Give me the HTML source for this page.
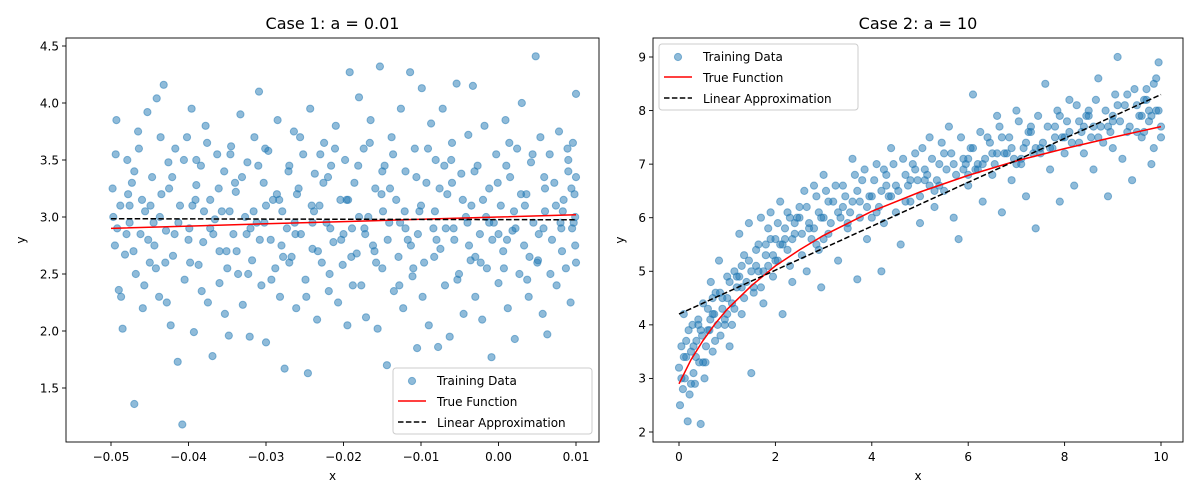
<!DOCTYPE html>
<html><head><meta charset="utf-8"><style>
html,body{margin:0;padding:0;background:#fff;}
svg{display:block;font-family:"DejaVu Sans","Liberation Sans",sans-serif;}
</style></head><body>
<svg id="c" width="1200" height="500" viewBox="0 0 1200 500"></svg>
<script>
const leftPts = [[-0.0498,3.25],[-0.0495,2.75],[-0.0493,3.85],[-0.0490,2.36],[-0.0488,3.10],[-0.0485,2.02],[-0.0482,2.67],[-0.0479,3.50],[-0.0476,2.95],[-0.0473,3.30],[-0.0470,1.36],[-0.0468,2.50],[-0.0465,3.75],[-0.0462,2.85],[-0.0459,2.20],[-0.0456,3.05],[-0.0453,3.92],[-0.0450,2.60],[-0.0447,3.35],[-0.0444,2.75],[-0.0441,4.04],[-0.0438,2.30],[-0.0435,3.20],[-0.0432,4.16],[-0.0429,2.88],[-0.0426,3.48],[-0.0423,2.05],[-0.0420,2.66],[-0.0417,3.60],[-0.0414,1.73],[-0.0411,3.10],[-0.0408,1.18],[-0.0405,2.45],[-0.0402,3.70],[-0.0399,2.90],[-0.0396,3.95],[-0.0393,1.99],[-0.0390,3.28],[-0.0387,2.58],[-0.0384,3.45],[-0.0381,2.78],[-0.0378,3.80],[-0.0375,2.25],[-0.0372,3.15],[-0.0369,1.78],[-0.0366,2.98],[-0.0363,3.55],[-0.0360,2.42],[-0.0357,3.05],[-0.0354,3.40],[-0.0351,2.70],[-0.0348,1.96],[-0.0345,3.62],[-0.0342,2.85],[-0.0339,3.22],[-0.0336,2.50],[-0.0333,3.90],[-0.0330,2.23],[-0.0327,3.00],[-0.0324,3.48],[-0.0321,1.95],[-0.0318,2.62],[-0.0315,3.70],[-0.0312,2.95],[-0.0309,4.10],[-0.0306,2.40],[-0.0303,3.30],[-0.0300,1.90],[-0.0297,3.58],[-0.0294,2.80],[-0.0291,3.15],[-0.0288,2.55],[-0.0285,3.85],[-0.0282,2.30],[-0.0279,3.05],[-0.0276,1.67],[-0.0273,2.90],[-0.0270,3.45],[-0.0267,2.65],[-0.0264,3.75],[-0.0261,2.20],[-0.0258,3.25],[-0.0255,2.85],[-0.0252,3.55],[-0.0249,2.45],[-0.0246,1.63],[-0.0243,3.95],[-0.0240,2.72],[-0.0237,3.38],[-0.0234,2.10],[-0.0231,3.10],[-0.0228,2.60],[-0.0225,3.65],[-0.0222,2.95],[-0.0219,2.35],[-0.0216,3.45],[-0.0213,2.78],[-0.0210,3.80],[-0.0207,2.25],[-0.0204,3.15],[-0.0201,2.58],[-0.0198,3.50],[-0.0195,2.05],[-0.0192,4.27],[-0.0189,2.90],[-0.0186,3.30],[-0.0183,2.68],[-0.0180,4.05],[-0.0177,2.40],[-0.0174,3.60],[-0.0171,2.12],[-0.0168,3.00],[-0.0165,3.85],[-0.0162,2.75],[-0.0159,3.25],[-0.0156,2.02],[-0.0153,4.32],[-0.0150,2.55],[-0.0147,3.45],[-0.0144,1.70],[-0.0141,2.95],[-0.0138,3.70],[-0.0135,2.35],[-0.0132,3.15],[-0.0129,2.65],[-0.0126,3.95],[-0.0123,2.20],[-0.0120,3.40],[-0.0117,2.80],[-0.0114,4.27],[-0.0111,2.48],[-0.0108,3.60],[-0.0105,1.85],[-0.0102,3.05],[-0.0099,4.13],[-0.0096,2.60],[-0.0093,3.30],[-0.0090,2.05],[-0.0087,3.82],[-0.0084,2.90],[-0.0081,3.50],[-0.0078,1.86],[-0.0075,2.72],[-0.0072,3.95],[-0.0069,2.40],[-0.0066,3.20],[-0.0063,1.95],[-0.0060,3.65],[-0.0057,2.80],[-0.0054,4.17],[-0.0051,2.50],[-0.0048,3.38],[-0.0045,2.15],[-0.0042,3.00],[-0.0039,3.72],[-0.0036,2.62],[-0.0033,4.15],[-0.0030,2.30],[-0.0027,3.45],[-0.0024,2.85],[-0.0021,2.10],[-0.0018,3.80],[-0.0015,2.55],[-0.0012,3.25],[-0.0009,1.77],[-0.0006,2.95],[-0.0003,3.55],[0.0000,2.42],[0.0003,3.10],[0.0006,2.70],[0.0009,3.85],[0.0012,2.20],[0.0015,3.35],[0.0018,2.88],[0.0021,1.93],[0.0024,3.60],[0.0027,2.50],[0.0030,4.00],[0.0033,2.75],[0.0036,3.20],[0.0039,2.30],[0.0042,3.48],[0.0045,2.95],[0.0048,4.41],[0.0051,2.62],[0.0054,3.70],[0.0057,2.15],[0.0060,3.05],[0.0063,1.97],[0.0066,3.55],[0.0069,2.80],[0.0072,3.30],[0.0075,2.40],[0.0078,3.75],[0.0081,2.90],[0.0084,3.15],[0.0087,2.55],[0.0090,3.40],[0.0093,2.25],[0.0096,3.65],[0.0099,2.75],[0.0100,4.08],[0.0099,3.00],[0.0097,2.95],[0.0094,3.25],
[-0.0497,3.00],[-0.0480,2.85],[-0.0460,3.15],[-0.0445,2.95],[-0.0425,3.25],[-0.0400,2.80],[-0.0380,3.05],[-0.0360,2.70],[-0.0340,3.30],[-0.0320,2.90],[-0.0300,3.10],[-0.0280,2.75],[-0.0260,3.20],[-0.0240,2.95],[-0.0220,3.35],[-0.0200,2.85],[-0.0180,3.00],[-0.0160,2.70],[-0.0140,3.25],[-0.0120,2.90],[-0.0100,3.10],[-0.0080,2.80],[-0.0060,3.30],[-0.0040,2.95],[-0.0020,3.15],[0.0000,2.85],[0.0020,3.05],[0.0040,2.65],[0.0060,3.25],[0.0080,2.95],[0.0098,3.20],[-0.0470,3.40],[-0.0430,2.60],[-0.0390,3.50],[-0.0350,2.55],[-0.0310,3.45],[-0.0270,2.60],[-0.0230,3.55],[-0.0190,2.65],[-0.0150,3.40],[-0.0110,2.55],[-0.0070,3.45],[-0.0030,2.65],[0.0010,3.45],[0.0050,2.60],[0.0090,3.50],
[-0.0494,3.55],[-0.0487,2.30],[-0.0478,3.20],[-0.0471,2.70],[-0.0464,3.60],[-0.0457,2.40],[-0.0449,3.10],[-0.0442,2.55],[-0.0436,3.70],[-0.0428,2.25],[-0.0421,3.35],[-0.0413,2.95],[-0.0406,3.50],[-0.0398,2.60],[-0.0391,3.15],[-0.0383,2.35],[-0.0376,3.65],[-0.0368,2.85],[-0.0361,3.25],[-0.0353,2.15],[-0.0346,3.55],[-0.0338,2.70],[-0.0331,3.35],[-0.0323,2.50],[-0.0316,3.05],[-0.0308,2.80],[-0.0301,3.60],[-0.0293,2.45],[-0.0286,3.20],[-0.0278,2.65],[-0.0271,3.40],[-0.0263,2.95],[-0.0256,3.70],[-0.0248,2.30],[-0.0241,3.10],[-0.0233,2.70],[-0.0226,3.30],[-0.0218,2.50],[-0.0211,3.60],[-0.0203,2.80],[-0.0196,3.15],[-0.0188,2.40],[-0.0181,3.45],[-0.0173,2.90],[-0.0166,3.65],[-0.0158,2.60],[-0.0151,3.20],[-0.0143,2.80],[-0.0136,3.55],[-0.0128,2.40],[-0.0121,3.05],[-0.0113,2.75],[-0.0106,3.35],[-0.0098,2.30],[-0.0091,3.60],[-0.0083,2.65],[-0.0076,3.25],[-0.0068,2.90],[-0.0061,3.50],[-0.0053,2.45],[-0.0046,3.15],[-0.0038,2.75],[-0.0031,3.40],[-0.0023,2.60],[-0.0016,3.00],[-0.0008,2.80],[-0.0001,3.30],[0.0007,2.55],[0.0014,3.65],[0.0022,2.90],[0.0029,3.20],[0.0037,2.45],[0.0044,3.55],[0.0052,2.85],[0.0059,3.35],[0.0067,2.50],[0.0074,3.10],[0.0082,2.70],[0.0089,3.60],[0.0095,2.90],[0.0100,2.60],[0.0100,3.35],
[-0.0492,2.90],[-0.0476,3.10],[-0.0452,2.80],[-0.0437,3.00],[-0.0418,2.85],[-0.0395,3.10],[-0.0372,2.90],[-0.0347,3.05],[-0.0325,2.85],[-0.0302,2.95],[-0.0283,3.15],[-0.0262,2.85],[-0.0238,3.05],[-0.0217,2.90],[-0.0194,3.15],[-0.0172,2.85],[-0.0149,3.05],[-0.0127,2.95],[-0.0104,2.85],[-0.0082,3.05],[-0.0058,2.90],[-0.0035,3.10],[-0.0012,2.95],[0.0011,2.80],[0.0034,3.10],[0.0058,2.90],[0.0083,3.05]];
const leftTrueX = [-0.05,-0.04,-0.03,-0.02,-0.01,0.0,0.01];
const leftTrueY = [2.90,2.92,2.94,2.96,2.98,3.00,3.02];
const leftLinX = [-0.05,0.01];
const leftLinY = [2.985,2.975];
const leftXTicks = [-0.05,-0.04,-0.03,-0.02,-0.01,0.00,0.01];
const leftXLabels = ["−0.05","−0.04","−0.03","−0.02","−0.01","0.00","0.01"];
const leftYTicks = [1.5,2.0,2.5,3.0,3.5,4.0,4.5];
const leftYLabels = ["1.5","2.0","2.5","3.0","3.5","4.0","4.5"];

const rightPts = [[0.00,3.2],[0.02,2.5],[0.05,3.6],[0.08,2.8],[0.10,4.2],[0.12,3.0],[0.15,3.4],[0.18,2.2],[0.20,3.9],[0.22,2.7],[0.25,3.5],[0.28,4.0],[0.30,3.1],[0.33,2.9],[0.36,3.7],[0.40,4.1],[0.42,3.3],[0.45,2.15],[0.48,3.8],[0.50,4.4],[0.53,3.0],[0.56,3.6],[0.60,4.3],[0.63,3.9],[0.66,4.8],[0.70,3.5],[0.73,4.2],[0.76,4.6],[0.80,4.0],[0.83,5.2],[0.86,3.8],[0.90,4.5],[0.95,4.1],[1.00,4.9],[1.05,3.6],[1.10,4.4],[1.15,5.0],[1.20,4.7],[1.25,5.7],[1.30,4.2],[1.35,5.3],[1.40,4.8],[1.45,5.9],[1.50,3.1],[1.55,4.6],[1.60,5.4],[1.65,5.0],[1.70,6.0],[1.75,4.4],[1.80,5.5],[1.85,5.1],[1.90,6.1],[1.95,4.9],[2.00,5.6],[2.05,5.2],[2.10,6.3],[2.15,4.2],[2.20,5.8],[2.25,5.4],[2.30,6.0],[2.35,4.8],[2.40,5.7],[2.50,6.2],[2.55,5.3],[2.60,6.5],[2.65,5.0],[2.70,5.9],[2.80,6.6],[2.85,5.5],[2.90,6.1],[2.95,4.7],[3.00,6.8],[3.10,5.7],[3.20,6.3],[3.30,5.2],[3.40,6.6],[3.50,5.9],[3.60,7.1],[3.70,4.85],[3.75,6.0],[3.80,6.7],[3.90,5.6],[4.00,6.4],[4.10,7.0],[4.20,5.0],[4.25,5.9],[4.30,6.6],[4.40,7.3],[4.50,6.1],[4.60,5.5],[4.70,6.8],[4.80,6.3],[4.90,7.2],[5.00,5.9],[5.10,6.7],[5.20,7.5],[5.30,6.2],[5.40,7.0],[5.50,6.5],[5.60,7.7],[5.70,6.0],[5.80,5.6],[5.90,7.1],[6.00,6.6],[6.10,8.3],[6.20,6.9],[6.30,6.3],[6.40,7.5],[6.50,6.8],[6.60,7.9],[6.70,6.1],[6.80,7.2],[6.90,6.7],[7.00,8.0],[7.10,7.0],[7.20,6.4],[7.30,7.6],[7.40,5.8],[7.50,7.3],[7.60,8.5],[7.70,6.9],[7.80,7.7],[7.90,6.3],[8.00,7.5],[8.10,8.2],[8.20,6.6],[8.30,7.8],[8.40,7.2],[8.50,8.0],[8.60,6.9],[8.70,8.6],[8.80,7.4],[8.90,6.4],[9.00,7.9],[9.10,9.0],[9.20,7.1],[9.30,8.3],[9.40,6.7],[9.50,8.1],[9.60,7.5],[9.70,8.4],[9.80,7.0],[9.90,8.6],[10.00,7.7],[9.95,8.9],[9.85,7.3],[9.75,8.0],[9.65,7.6],
[0.3,3.6],[0.6,3.9],[0.9,4.3],[1.2,4.9],[1.5,5.0],[1.8,5.3],[2.1,5.5],[2.4,5.9],[2.7,5.8],[3.0,6.0],[3.3,6.1],[3.6,6.3],[3.9,6.2],[4.2,6.5],[4.5,6.6],[4.8,6.7],[5.1,6.9],[5.4,6.6],[5.7,7.0],[6.0,7.1],[6.3,7.0],[6.6,7.2],[6.9,7.3],[7.2,7.4],[7.5,7.2],[7.8,7.5],[8.1,7.6],[8.4,7.7],[8.7,7.5],[9.0,7.8],[9.3,7.6],[9.6,7.9],[9.9,8.0],[1.0,4.5],[2.0,5.2],[3.0,5.6],[4.0,6.0],[5.0,6.4],[6.0,6.8],[7.0,7.0],[8.0,7.2],[9.0,7.3],[10,7.5],
[0.5,3.3],[1.1,4.0],[1.7,4.7],[2.3,5.1],[2.9,5.4],[3.5,5.8],[4.1,6.1],[4.7,6.3],[5.3,6.5],[5.9,6.9],[6.5,7.2],[7.1,7.1],[7.7,7.3],[8.3,7.4],[8.9,7.7],[9.5,7.6],[0.7,4.5],[1.3,5.1],[1.9,5.6],[2.5,6.0],[3.1,6.3],[3.7,6.5],[4.3,6.8],[4.9,6.9],[5.5,7.2],[6.1,7.3],[6.7,7.5],[7.3,7.7],[7.9,7.9],[8.5,7.9],[9.1,8.1],[9.7,8.2],
[0.05,3.0],[0.15,3.7],[0.25,2.9],[0.35,3.4],[0.45,3.9],[0.55,3.3],[0.65,4.1],[0.75,3.7],[0.85,4.6],[0.95,4.0],[1.05,4.8],[1.15,4.3],[1.25,4.9],[1.35,4.5],[1.45,5.2],[1.55,4.7],[1.65,5.5],[1.75,5.0],[1.85,5.8],[1.95,5.3],[2.05,5.9],[2.15,5.5],[2.25,6.1],[2.35,5.6],[2.45,6.0],[2.55,5.7],[2.65,6.2],[2.75,5.6],[2.85,6.4],[2.95,6.0],[3.05,6.5],[3.15,5.9],[3.25,6.6],[3.35,6.0],[3.45,6.4],[3.55,6.1],[3.65,6.8],[3.75,6.3],[3.85,6.9],[3.95,6.4],[4.05,6.7],[4.15,6.2],[4.25,6.9],[4.35,6.4],[4.45,7.0],[4.55,6.5],[4.65,7.1],[4.75,6.6],[4.85,7.0],[4.95,6.7],[5.05,7.3],[5.15,6.8],[5.25,7.1],[5.35,6.7],[5.45,7.4],[5.55,6.9],[5.65,7.2],[5.75,6.8],[5.85,7.5],[5.95,7.0],[6.05,7.3],[6.15,6.9],[6.25,7.6],[6.35,7.1],[6.45,7.4],[6.55,7.0],[6.65,7.7],[6.75,7.2],[6.85,7.5],[6.95,7.1],[7.05,7.8],[7.15,7.3],[7.25,7.6],[7.35,7.2],[7.45,7.9],[7.55,7.4],[7.65,7.7],[7.75,7.3],[7.85,8.0],[7.95,7.5],[8.05,7.8],[8.15,7.4],[8.25,8.1],[8.35,7.6],[8.45,7.9],[8.55,7.5],[8.65,8.2],[8.75,7.7],[8.85,8.0],[8.95,7.6],[9.05,8.3],[9.15,7.8],[9.25,8.1],[9.35,7.7],[9.45,8.4],[9.55,7.9],[9.65,8.2],[9.75,7.8],[9.85,8.5],[9.95,8.0],[0.1,3.4],[0.4,4.0],[0.7,4.2],[1.0,4.2],[1.3,4.7],[1.6,5.1],[2.2,5.6],[2.8,5.8],[3.4,6.2],[4.4,6.4],[5.2,6.6],[6.2,7.0],[7.4,7.3],[8.6,7.7],[9.8,7.9]];
const rightTrueX = [0,0.25,0.5,0.75,1,1.5,2,2.5,3,4,5,6,7,8,9,10];
const rightTrueY = [2.9,3.35,3.71,4.02,4.29,4.73,5.10,5.40,5.67,6.12,6.48,6.79,7.06,7.29,7.50,7.70];
const rightLinX = [0,10];
const rightLinY = [4.2,8.3];
const rightXTicks = [0,2,4,6,8,10];
const rightXLabels = ["0","2","4","6","8","10"];
const rightYTicks = [2,3,4,5,6,7,8,9];
const rightYLabels = ["2","3","4","5","6","7","8","9"];

const NS="http://www.w3.org/2000/svg";
const svg=document.getElementById('c');
function mk(tag,attrs,parent){const e=document.createElementNS(NS,tag);for(const k in attrs)e.setAttribute(k,attrs[k]);(parent||svg).appendChild(e);return e;}

function panel(cfg){
  const g=mk('g',{});
  
  
  const L=cfg.box[0],T=cfg.box[1],R=cfg.box[2],B=cfg.box[3];
  const sx=v=>cfg.px0+(v-cfg.x0)*(cfg.px1-cfg.px0)/(cfg.x1-cfg.x0);
  const sy=v=>cfg.py0+(v-cfg.y0)*(cfg.py1-cfg.py0)/(cfg.y1-cfg.y0);
  const clipId=cfg.name+'-clip';
  const defs=mk('defs',{},g);const cp=mk('clipPath',{id:clipId},defs);mk('rect',{x:L,y:T,width:R-L,height:B-T},cp);
  const pg=mk('g',{'clip-path':'url(#'+clipId+')'},g);
  
  
  cfg.pts.forEach(p=>{
    const c=mk('circle',{cx:sx(p[0]).toFixed(1),cy:sy(p[1]).toFixed(1),r:3.6,fill:'rgba(31,119,180,0.5)',stroke:'rgba(31,119,180,0.5)','stroke-width':1},pg);
    
    
  });
  const tl=mk('polyline',{points:cfg.tx.map((x,i)=>sx(x).toFixed(1)+','+sy(cfg.ty[i]).toFixed(1)).join(' '),fill:'none',stroke:'#ff0000','stroke-width':1.5,'clip-path':'url(#'+clipId+')'},g);
  
  
  const ll=mk('polyline',{points:cfg.lx.map((x,i)=>sx(x).toFixed(1)+','+sy(cfg.ly[i]).toFixed(1)).join(' '),fill:'none',stroke:'#000','stroke-width':1.5,'stroke-dasharray':'5.5,2.4','clip-path':'url(#'+clipId+')'},g);
  
  
  const fr=mk('rect',{x:L,y:T,width:R-L,height:B-T,fill:'none',stroke:'#000','stroke-width':0.9},g);
  
  
  cfg.xt.forEach((v,i)=>{
    const x=sx(v);
    mk('line',{x1:x,x2:x,y1:B,y2:B+4,stroke:'#000','stroke-width':0.9},g);
    const t=mk('text',{x:x,y:B+19,'font-size':12,'text-anchor':'middle',fill:'#000'},g);
    t.textContent=cfg.xl[i];
    
    
  });
  cfg.yt.forEach((v,i)=>{
    const y=sy(v);
    mk('line',{x1:L-4,x2:L,y1:y,y2:y,stroke:'#000','stroke-width':0.9},g);
    const t=mk('text',{x:L-7,y:y+4.3,'font-size':12,'text-anchor':'end',fill:'#000'},g);
    t.textContent=cfg.yl[i];
    
    
  });
  const xt=mk('text',{x:(L+R)/2,y:B+38,'font-size':12,'text-anchor':'middle'},g);xt.textContent='x';
  
  
  const yx=cfg.ytx;
  const yt=mk('text',{x:yx,y:(T+B)/2,'font-size':12,'text-anchor':'middle',transform:'rotate(-90 '+yx+' '+(T+B)/2+')'},g);yt.textContent='y';
  
  
  const ti=mk('text',{x:(L+R)/2,y:T-9,'font-size':16,'text-anchor':'middle'},g);ti.textContent=cfg.title;
  
  
  const lg=mk('g',{},g);
  
  
  const lx=cfg.leg[0],ly=cfg.leg[1];
  mk('rect',{x:lx,y:ly,width:199,height:66,rx:3,fill:'rgba(255,255,255,0.8)',stroke:'#ccc','stroke-width':1},lg);
  mk('circle',{cx:lx+19,cy:ly+13,r:3.6,fill:'rgba(31,119,180,0.5)',stroke:'rgba(31,119,180,0.5)'},lg);
  mk('line',{x1:lx+5,x2:lx+33,y1:ly+33,y2:ly+33,stroke:'#f00','stroke-width':1.5},lg);
  mk('line',{x1:lx+5,x2:lx+33,y1:ly+54,y2:ly+54,stroke:'#000','stroke-width':1.5,'stroke-dasharray':'5.5,2.4'},lg);
  [['Training Data',17,'legend-entry-training-data'],['True Function',38,'legend-entry-true-function'],['Linear Approximation',59,'legend-entry-linear-approximation']].forEach(a=>{
    const t=mk('text',{x:lx+44,y:ly+a[1],'font-size':12},lg);t.textContent=a[0];
    
    
  });
}
panel({name:'left-panel',box:[66,38,599,442],x0:-0.05,x1:0.01,px0:111,px1:576,y0:1.5,y1:4.5,py0:388,py1:46,
  pts:leftPts,tx:leftTrueX,ty:leftTrueY,lx:leftLinX,ly:leftLinY,xt:leftXTicks,xl:leftXLabels,yt:leftYTicks,yl:leftYLabels,
  title:'Case 1: a = 0.01',leg:[393,368],ytx:25});
panel({name:'right-panel',box:[653,38,1183,442],x0:0,x1:10,px0:679,px1:1161,y0:2,y1:9,py0:432,py1:57,
  pts:rightPts,tx:rightTrueX,ty:rightTrueY,lx:rightLinX,ly:rightLinY,xt:rightXTicks,xl:rightXLabels,yt:rightYTicks,yl:rightYLabels,
  title:'Case 2: a = 10',leg:[659,44],ytx:624});
</script>
</body></html>
